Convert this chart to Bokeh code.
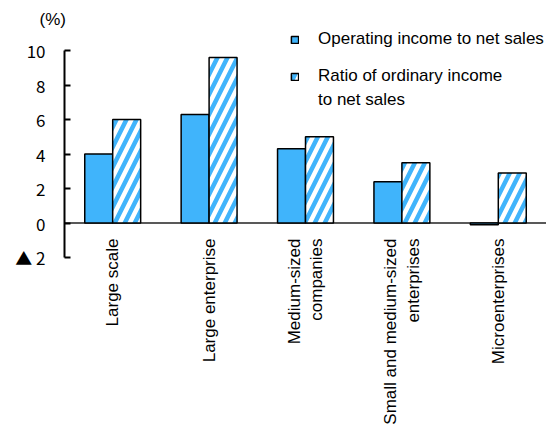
import math
from bokeh.plotting import figure
from bokeh.models import (FactorRange, Range1d, FixedTicker, Span, Title, Legend, LegendItem,
                          ColumnDataSource)
from bokeh.transform import dodge
from bokeh.embed import file_html
from bokeh.resources import INLINE

# Profit ratios by company size (%)
categories = ["Large scale", "Large enterprise", "Medium-sized\ncompanies",
              "Small and medium-sized\nenterprises", "Microenterprises"]
operating_income = [4.0, 6.3, 4.3, 2.4, -0.1]
ordinary_income = [6.0, 9.6, 5.0, 3.5, 2.9]
y_ticks = [-2, 0, 2, 4, 6, 8, 10]
y_tick_labels = {-2: "▲ 2"}

FONT = "Liberation Sans"
TICK_FONT = "Noto Sans CJK JP"   # carries the full-width ▲ used for negatives
BLUE = "#40b4fb"

src = ColumnDataSource(dict(cat=categories, op=operating_income, ordi=ordinary_income))

p = figure(width=546, height=427, x_range=FactorRange(*categories), y_range=Range1d(-2, 11.28),
           output_backend="svg", toolbar_location=None,
           min_border_left=64, min_border_right=0, min_border_top=28, min_border_bottom=170)
p.outline_line_color = None
p.xgrid.visible = False
p.ygrid.visible = False
p.background_fill_color = "white"

# unit label above the value axis
p.add_layout(Title(text="(%)", align="left", offset=-25, text_font=FONT, text_font_size="17px",
                   text_font_style="normal", text_color="black", standoff=0), "above")

# zero baseline
p.add_layout(Span(location=0, dimension="width", line_color="#222222", line_width=1.5, level="underlay"))

r1 = p.vbar(x=dodge("cat", -0.145, range=p.x_range), top="op", bottom=0, width=0.29, source=src,
            fill_color=BLUE, line_color="black", line_width=1.5)
r2 = p.vbar(x=dodge("cat", 0.145, range=p.x_range), top="ordi", bottom=0, width=0.29, source=src,
            fill_color="white", line_color="black", line_width=1.5,
            hatch_pattern="/", hatch_color=BLUE, hatch_weight=4.5, hatch_scale=20)

# y axis
ya = p.yaxis[0]
ya.ticker = FixedTicker(ticks=y_ticks)
ya.bounds = (-2, 10)
ya.major_label_overrides = y_tick_labels
ya.axis_line_color = "black"
ya.axis_line_width = 2
ya.major_tick_in = 6
ya.major_tick_out = 0
ya.major_tick_line_width = 2
ya.minor_tick_line_color = None
ya.major_label_text_font = TICK_FONT
ya.major_label_text_font_size = "17px"
ya.major_label_text_color = "black"
ya.major_label_standoff = 19

# x axis: labels only
xa = p.xaxis[0]
xa.axis_line_color = None
xa.major_tick_line_color = None
xa.minor_tick_line_color = None
xa.major_label_orientation = math.pi / 2
xa.major_label_text_font = FONT
xa.major_label_text_font_size = "17px"
xa.major_label_text_color = "black"
xa.major_label_standoff = -25

legend_style = dict(orientation="vertical", label_text_font=FONT, label_text_font_size="17px",
                    label_text_color="black", glyph_width=9, glyph_height=9, label_standoff=19,
                    padding=0, margin=0, border_line_color=None, background_fill_alpha=0)

legend_a = Legend(items=[LegendItem(label="Operating income to net sales", renderers=[r1])],
                  location=(226, 208), **legend_style)
legend_b = Legend(items=[LegendItem(label="Ratio of ordinary income", renderers=[r2]),
                         LegendItem(label="to net sales", renderers=[])],
                  location=(226, 147), spacing=4, **legend_style)
p.add_layout(legend_a, "center")
p.add_layout(legend_b, "center")

open("out.html", "w").write(file_html(p, INLINE))
